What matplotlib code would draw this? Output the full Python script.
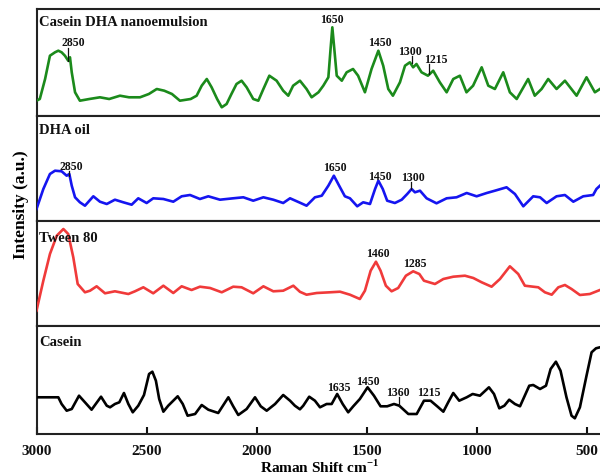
import matplotlib
matplotlib.use("Agg")
import matplotlib.pyplot as plt

plt.rcParams['font.family'] = ['Liberation Serif', 'DejaVu Serif']
plt.rcParams['mathtext.fontset'] = 'custom'
plt.rcParams['mathtext.rm'] = 'Liberation Serif'
plt.rcParams['mathtext.bf'] = 'Liberation Serif:bold'

# ---------------- data (Raman shift cm-1, intensity a.u.) ----------------
names = ["Casein DHA nanoemulsion", "DHA oil", "Tween 80", "Casein"]

x_nano = [3000, 2985, 2961, 2939, 2916, 2901, 2886, 2871, 2856, 2848, 2840, 2825, 2803,
          2760, 2712, 2670, 2621, 2580, 2530, 2490, 2454, 2420, 2385, 2349, 2300, 2273,
          2250, 2227, 2205, 2180, 2159, 2137, 2115, 2092, 2069, 2046, 2016, 1993, 1970,
          1943, 1910, 1880, 1857, 1835, 1804, 1774, 1751, 1720, 1698, 1675, 1665, 1657,
          1648, 1637, 1614, 1592, 1563, 1540, 1509, 1479, 1448, 1426, 1403, 1382, 1350,
          1327, 1305, 1290, 1275, 1252, 1223, 1199, 1169, 1138, 1108, 1078, 1048, 1018,
          979, 949, 919, 881, 851, 820, 768, 738, 707, 677, 639, 601, 548, 503, 465, 442]
y_nano = [15.3, 17, 37, 60.3, 63.7, 65.3, 63.7, 60.3, 55.3, 58.7, 43.7, 23.7, 15.3,
          17, 18.7, 17, 20.3, 18.7, 18.7, 22, 27, 25.3, 22, 15.3, 17, 20.3,
          30.3, 37, 28.7, 17, 8.7, 12, 22, 32, 35.3, 28.7, 17, 15.3, 27,
          40.3, 35.3, 25.3, 20.3, 30.3, 35.3, 27, 18.7, 23.7, 30.3, 38.7, 67, 88.7,
          67, 40.3, 35.3, 43.7, 47, 40.3, 23.7, 47, 65.3, 50.3, 27, 20.3, 33.7,
          50.3, 53.7, 48.7, 52, 43.7, 40.3, 45.3, 33.7, 23.7, 37, 40.3, 23.7, 30.3,
          48.7, 30.3, 27, 43.7, 23.7, 17, 37, 20.3, 27, 37, 27, 35.3, 20.3, 38.7, 23.7, 27]

x_oil = [3000, 2969, 2939, 2916, 2886, 2863, 2851, 2840, 2825, 2803, 2780, 2742, 2712,
         2681, 2644, 2606, 2568, 2538, 2500, 2470, 2424, 2379, 2341, 2303, 2258, 2220,
         2167, 2107, 2061, 2016, 1970, 1925, 1880, 1849, 1804, 1774, 1736, 1705, 1675,
         1650, 1626, 1600, 1577, 1544, 1517, 1486, 1463, 1448, 1428, 1408, 1373, 1342,
         1317, 1297, 1282, 1259, 1229, 1184, 1138, 1093, 1047, 1002, 956, 919, 866,
         828, 790, 745, 714, 684, 639, 601, 563, 518, 473, 458, 442]
y_oil = [12, 32, 47, 50.3, 49.7, 45.3, 47, 35.3, 23.7, 18.7, 15.3, 24.7, 19.3,
         17, 21.3, 18.7, 16.3, 22.7, 18, 22.7, 22, 19.3, 24.7, 26, 22, 24.7,
         21.3, 22.7, 23.7, 20.3, 23.7, 21.3, 18, 22.7, 18.3, 15.3, 23.7, 25.3, 35.3,
         45.3, 35.3, 24.7, 22.7, 14.7, 18.7, 17, 32, 40.3, 32, 20.3, 18, 21.3,
         27, 32, 28.7, 30.3, 22.7, 17.7, 22.7, 23.7, 28, 24.7, 28, 30.3, 33.7,
         27, 14.7, 24.7, 23.7, 18, 24.7, 26, 19.3, 24.7, 26, 32, 35.3]

x_tween = [3000, 2969, 2939, 2908, 2878, 2856, 2833, 2813, 2780, 2757, 2727, 2689, 2644,
           2583, 2553, 2515, 2470, 2424, 2379, 2341, 2296, 2258, 2212, 2159, 2107, 2069,
           2016, 1970, 1925, 1880, 1834, 1804, 1774, 1728, 1668, 1622, 1577, 1532, 1509,
           1483, 1459, 1438, 1414, 1388, 1358, 1323, 1290, 1262, 1241, 1191, 1153, 1108,
           1055, 1017, 979, 934, 896, 851, 813, 783, 745, 722, 692, 661, 631, 601, 571,
           533, 488, 442]
y_tween = [15.3, 45.3, 72, 90.3, 97, 92, 68.7, 42, 33.7, 35.3, 39.7, 32.7, 34.7,
           32, 34.7, 38.7, 32.7, 40.3, 33, 39.7, 36, 39.3, 38, 33.7, 39.3, 38.7,
           32.7, 39.7, 34.7, 35.3, 40.3, 34.2, 31.3, 33, 33.7, 34.3, 31.3, 27, 35.3,
           55.3, 64.3, 55.3, 40.3, 34.7, 38, 50.3, 54.7, 52, 45.3, 42, 47, 49.3,
           50.3, 48, 43.7, 39.3, 47, 59.7, 52, 40.3, 39.3, 38.7, 33.7, 31.3, 38.7, 41, 37,
           31, 32, 36]

x_casein = [3000, 2901, 2886, 2863, 2840, 2807, 2780, 2750, 2707, 2681, 2666, 2644, 2624,
            2603, 2583, 2563, 2538, 2512, 2489, 2474, 2458, 2443, 2424, 2402, 2359, 2336,
            2314, 2280, 2250, 2220, 2175, 2129, 2107, 2084, 2046, 2008, 1982, 1955, 1917,
            1880, 1849, 1827, 1804, 1789, 1762, 1736, 1713, 1683, 1660, 1635, 1610, 1585,
            1562, 1532, 1497, 1468, 1438, 1408, 1377, 1353, 1312, 1274, 1241, 1211, 1181,
            1153, 1131, 1108, 1081, 1047, 1020, 987, 946, 923, 899, 876, 854, 828, 805,
            763, 745, 714, 687, 666, 642, 621, 594, 571, 556, 533, 503, 480, 460, 442]
y_casein = [36.7, 36.7, 30, 23.3, 25, 38.3, 31.7, 24.3, 37.3, 28.3, 26.7, 30, 31.7,
            41, 30, 21.7, 28.3, 39, 60, 62.3, 53.3, 35, 22.3, 28.3, 37.7, 30,
            18.3, 20, 29, 24.3, 21, 36.7, 27.7, 19, 25, 36.7, 27.7, 23.3, 30,
            39, 33.3, 28.3, 24.7, 28.3, 37.3, 33.3, 26.7, 30, 30, 40, 30, 21.7,
            27.7, 35, 46.7, 38.3, 27.7, 27.7, 30, 28.3, 20, 20, 33.3, 33.3, 27.7,
            22.3, 31.7, 41, 33.3, 36.7, 40, 38.3, 46.7, 40, 25.7, 28.3, 34.3, 30, 27.7,
            48.3, 49, 45, 48.3, 65, 72.3, 63.3, 36.7, 18.3, 15.7, 26.7, 58.3, 81.7, 85.7, 86.7]

# peak labels: (text, x, y) and marker lines: (x, y_from, y_to)
labels_nano = [("2850", 2834, 73.7), ("1650", 1659, 97), ("1450", 1443, 73.7),
               ("1300", 1303, 65.3), ("1215", 1189, 57)]
marks_nano = [(2856, 67.7, 55.3), (1297, 60.3, 53), (1220, 52, 42)]
labels_oil = [("2850", 2842, 55.3), ("1650", 1644, 53.7), ("1450", 1439, 45.3),
              ("1300", 1290, 44.3)]
marks_oil = [(2852, 50.3, 45.3), (1298, 39.3, 32)]
labels_tween = [("1460", 1450, 72.7), ("1285", 1281, 62.7)]
marks_tween = []
labels_casein = [("1635", 1627, 46.7), ("1450", 1494, 52.7), ("1360", 1360, 42.3),
                 ("1215", 1217, 41.7)]
marks_casein = [(1353, 37.3, 28.3)]

xticks = [3000, 2500, 2000, 1500, 1000, 500]

# ---------------- drawing ----------------
series = [(x_nano, y_nano, labels_nano, marks_nano),
          (x_oil, y_oil, labels_oil, marks_oil),
          (x_tween, y_tween, labels_tween, marks_tween),
          (x_casein, y_casein, labels_casein, marks_casein)]
colors = ["#1b8a1b", "#1515f0", "#f03a3a", "#000000"]
panel_px = [(10, 117), (117, 222), (222, 327), (327, 435)]
title_y = [0.879, 0.876, 0.845, 0.855]

W, H = 600.0, 477.0
left = 36.5 / W
right = 601.5 / W

fig = plt.figure(figsize=(6, 4.77), dpi=100)
axes = []
for i, (top, bot) in enumerate(panel_px):
    ax = fig.add_axes([left, 1 - bot / H, right - left, (bot - top) / H])
    xs, ys, labs, marks = series[i]
    ax.plot(xs, ys, color=colors[i], lw=1.9, solid_joinstyle='round', zorder=3)
    ax.set_xlim(3000, 435)
    ax.set_ylim(0, bot - top)
    for t, lx, ly in labs:
        ax.text(lx, ly, t, ha='center', va='center', fontsize=8.5, fontweight='bold',
                color='#111111', zorder=4)
    for mx, y0, y1 in marks:
        ax.plot([mx, mx], [y0, y1], color='#111111', lw=0.9, zorder=4)
    ax.text(0.005, title_y[i], names[i], transform=ax.transAxes, ha='left', va='center',
            fontsize=10.5, fontweight='bold', color='#111111', zorder=5)
    ax.set_yticks([])
    for s in ['top', 'bottom', 'left']:
        ax.spines[s].set_linewidth(1.5)
        ax.spines[s].set_color('#222222')
    ax.spines['right'].set_visible(False)
    if i < 3:
        ax.set_xticks([])
    else:
        ax.set_xticks(xticks)
        ax.set_xticklabels([str(v) for v in xticks], fontsize=11, fontweight='bold')
        ax.tick_params(axis='x', direction='in', length=5, width=1.5, pad=7,
                       colors='#111111')
        ax.set_xlabel(r"Raman Shift cm$^{\mathbf{-1}}$", fontsize=11, fontweight='bold',
                      labelpad=1)
    axes.append(ax)

fig.text(21 / W, 1 - 205 / H, "Intensity (a.u.)", rotation=90, ha='center', va='center',
         fontsize=12.5, fontweight='bold')

fig.savefig("out.png", dpi=100)
